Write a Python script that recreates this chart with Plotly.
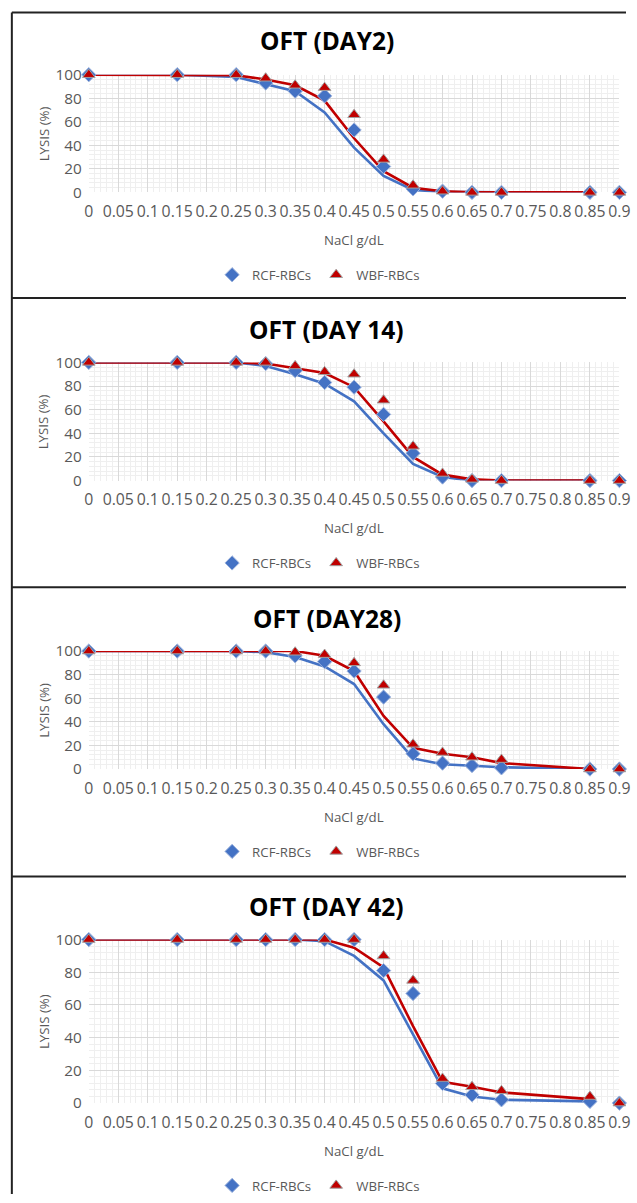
import plotly.graph_objects as go

# ---------------- data ----------------
X = [0, 0.15, 0.25, 0.3, 0.35, 0.4, 0.45, 0.5, 0.55, 0.6, 0.65, 0.7, 0.85, 0.9]
X_LINE = [0, 0.15, 0.25, 0.3, 0.35, 0.4, 0.45, 0.5, 0.55, 0.6, 0.65, 0.7, 0.85]

TICK_VALS = [0, 0.05, 0.1, 0.15, 0.2, 0.25, 0.3, 0.35, 0.4, 0.45, 0.5, 0.55,
             0.6, 0.65, 0.7, 0.75, 0.8, 0.85, 0.9]
TICK_LABELS = ["0", "0.05", "0.1", "0.15", "0.2", "0.25", "0.3", "0.35", "0.4",
               "0.45", "0.5", "0.55", "0.6", "0.65", "0.7", "0.75", "0.8",
               "0.85", "0.9"]
Y_TICKS = [0, 20, 40, 60, 80, 100]

TITLES = ["OFT (DAY2)", "OFT (DAY 14)", "OFT (DAY28)", "OFT (DAY 42)"]
SERIES_NAMES = ["RCF-RBCs", "WBF-RBCs"]

# Day 2
RCF_D2 = [100, 100, 100, 93, 86, 82, 53, 22, 3, 1, 0, 0, 0, 0]
WBF_D2 = [100, 100, 100, 97, 91, 89, 66, 28, 6, 1, 0, 0, 0, 0]
RCF_D2_LINE = [100, 100, 98, 92, 86, 68, 38, 14, 2, 0.5, 0, 0, 0]
WBF_D2_LINE = [100, 100, 99.5, 96, 91, 78, 46, 18, 4, 1, 0, 0, 0]

# Day 14
RCF_D14 = [100, 100, 100, 99, 93, 83, 79, 56, 23, 3, 0, 0, 0, 0]
WBF_D14 = [100, 100, 100, 100, 97, 92, 90, 68, 29, 6, 1, 0, 0, 0]
RCF_D14_LINE = [100, 100, 100, 97, 90, 82, 67, 40, 14, 3, 0, 0, 0]
WBF_D14_LINE = [100, 100, 100, 99, 95, 91, 79, 50, 20, 5, 1, 0, 0]

# Day 28
RCF_D28 = [100, 100, 100, 100, 96, 91, 83, 61, 13, 5, 3, 1, 0, 0]
WBF_D28 = [100, 100, 100, 100, 99, 97, 90, 71, 21, 14, 10, 8, 0, 0]
RCF_D28_LINE = [100, 100, 100, 99, 95, 87, 72, 38, 9, 4, 3, 1.5, 0]
WBF_D28_LINE = [100, 100, 100, 100, 100, 96, 83, 45, 18, 13, 10, 5, 0]

# Day 42
RCF_D42 = [100, 100, 100, 100, 100, 100, 100, 81, 67, 12, 5, 2, 1, 0]
WBF_D42 = [100, 100, 100, 100, 100, 100, 100, 90, 75, 15, 10, 7.5, 4, 0]
RCF_D42_LINE = [100, 100, 100, 100, 100, 99, 90, 75, 42, 9, 4, 2, 1]
WBF_D42_LINE = [100, 100, 100, 100, 100, 100, 95, 83, 47, 13, 10, 6.5, 2.4]

MARKERS = [RCF_D2, RCF_D14, RCF_D28, RCF_D42]
MARKERS_W = [WBF_D2, WBF_D14, WBF_D28, WBF_D42]
LINES = [RCF_D2_LINE, RCF_D14_LINE, RCF_D28_LINE, RCF_D42_LINE]
LINES_W = [WBF_D2_LINE, WBF_D14_LINE, WBF_D28_LINE, WBF_D42_LINE]

# ---------------- layout geometry (target pixels on the photo) ----------------
W, H = 637, 1203
PLOT_LEFT, PLOT_RIGHT = 88, 619
PLOT_TOP = [72, 360.5, 650, 939.3]
PLOT_BOTTOM = [190, 479, 768.3, 1103.3]
TITLE_Y = [38, 328, 617, 906]
PANEL_TOPS = [9.5, 296, 586, 876]
TITLE_X = 326
LEGEND_X = 318

# the photographed page comes out slightly scaled and shifted; compensate
SX, BX = 0.9756, 4.15
SY, BY = 0.9862, 8.1
FS = 1.0 / 0.98

BLUE = "#4472C4"
RED = "#C00000"
FONT = "Open Sans"
TXT = "#595959"


def py(p):
    return 1 - ((p - BY) / SY) / H


def px(p):
    return ((p - BX) / SX) / W


fig = go.Figure()
annotations = []
shapes = []
layout_axes = {}

for i in range(4):
    n = "" if i == 0 else str(i + 1)
    xa, ya = "x" + n, "y" + n
    leg = "legend" if i == 0 else "legend" + str(i + 1)

    fig.add_trace(go.Scatter(x=X_LINE, y=LINES[i], mode="lines",
                             line=dict(color=BLUE, width=2.6),
                             xaxis=xa, yaxis=ya, showlegend=False,
                             hoverinfo="skip", cliponaxis=False))
    fig.add_trace(go.Scatter(x=X_LINE, y=LINES_W[i], mode="lines",
                             line=dict(color=RED, width=2.6),
                             xaxis=xa, yaxis=ya, showlegend=False,
                             hoverinfo="skip", cliponaxis=False))
    fig.add_trace(go.Scatter(x=X, y=MARKERS[i], mode="markers",
                             name=SERIES_NAMES[0], legend=leg,
                             marker=dict(symbol="diamond", size=11, color=BLUE,
                                         line=dict(color="#9db3dd", width=1)),
                             xaxis=xa, yaxis=ya, cliponaxis=False))
    fig.add_trace(go.Scatter(x=X, y=MARKERS_W[i], mode="markers",
                             name=SERIES_NAMES[1], legend=leg,
                             marker=dict(symbol="triangle-up", size=11, color=RED,
                                         line=dict(color="#a0a0a0", width=1)),
                             xaxis=xa, yaxis=ya, cliponaxis=False))

    layout_axes["xaxis" + n] = dict(
        domain=[px(PLOT_LEFT), px(PLOT_RIGHT)], anchor=ya, range=[0, 0.9],
        tickmode="array", tickvals=TICK_VALS, ticktext=TICK_LABELS,
        tickangle=0, showgrid=True, gridcolor="#d9d9d9", gridwidth=1,
        zeroline=False, showline=False, ticks="",
        tickfont=dict(family=FONT, size=15.5 * FS, color=TXT),
        ticklabelstandoff=8, ticklabeloverflow="allow",
        minor=dict(dtick=0.01, tick0=0, showgrid=True, gridcolor="#efefef",
                   gridwidth=1),
    )
    layout_axes["yaxis" + n] = dict(
        domain=[py(PLOT_BOTTOM[i]), py(PLOT_TOP[i])], anchor=xa, range=[0, 100],
        tickmode="array", tickvals=Y_TICKS, showgrid=True,
        gridcolor="#d9d9d9", gridwidth=1, zeroline=False, showline=False,
        ticks="", tickfont=dict(family=FONT, size=15 * FS, color=TXT),
        ticklabelstandoff=6,
        minor=dict(dtick=4, tick0=0, showgrid=True, gridcolor="#efefef",
                   gridwidth=1),
    )
    layout_axes[leg] = dict(
        orientation="h", x=px(LEGEND_X), xanchor="center",
        y=py(PLOT_BOTTOM[i] + 83), yanchor="middle",
        font=dict(family=FONT, size=13 * FS, color=TXT),
        itemwidth=30, bgcolor="rgba(0,0,0,0)", traceorder="normal",
    )

    annotations.append(dict(text="<b>" + TITLES[i] + "</b>", x=px(TITLE_X),
                            y=py(TITLE_Y[i]), xref="paper", yref="paper",
                            showarrow=False, xanchor="center", yanchor="middle",
                            font=dict(family=FONT, size=24 * FS, color="#000000")))
    annotations.append(dict(text="LYSIS (%)", x=px(43),
                            y=py((PLOT_TOP[i] + PLOT_BOTTOM[i]) / 2),
                            xref="paper", yref="paper", textangle=-90,
                            showarrow=False, xanchor="center", yanchor="middle",
                            font=dict(family=FONT, size=13 * FS, color=TXT)))
    annotations.append(dict(text="NaCl g/dL", x=px((PLOT_LEFT + PLOT_RIGHT) / 2),
                            y=py(PLOT_BOTTOM[i] + 48), xref="paper", yref="paper",
                            showarrow=False, xanchor="center", yanchor="middle",
                            font=dict(family=FONT, size=13 * FS, color=TXT)))
    shapes.append(dict(type="line", xref="paper", yref="paper",
                       x0=px(11), x1=1, y0=py(PANEL_TOPS[i]),
                       y1=py(PANEL_TOPS[i]),
                       line=dict(color="#222222", width=2)))

shapes.append(dict(type="line", xref="paper", yref="paper",
                   x0=px(11), x1=px(11), y0=py(9.5), y1=0,
                   line=dict(color="#222222", width=2)))

fig.update_layout(
    width=W, height=H, margin=dict(l=0, r=0, t=0, b=0),
    paper_bgcolor="white", plot_bgcolor="white",
    annotations=annotations, shapes=shapes,
    **layout_axes,
)

fig.write_html("out.html")
